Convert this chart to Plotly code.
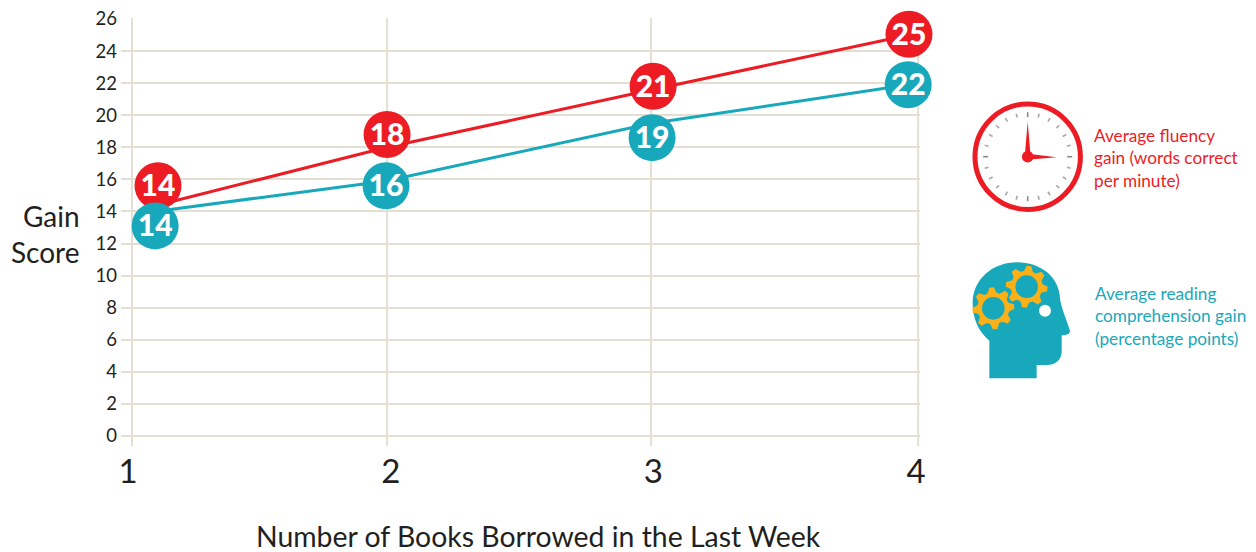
import math
import plotly.graph_objects as go

W, H = 1256, 552
RED = "#ed1c24"
TEAL = "#17a9bb"
GRID = "#e4e0d1"
INK = "#231f20"
FONT = "Lato"

x_ticks = [1, 2, 3, 4]
y_ticks = list(range(0, 27, 2))
x_grid = [1.015, 1.986, 2.991, 4.008]

fluency_x = [1.114, 1.986, 2.999, 3.973]
fluency_line = [14.4, 18.0, 21.6, 25.0]
fluency_marker = [15.6, 18.8, 21.8, 25.05]
fluency_labels = ["14", "18", "21", "25"]

reading_x = [1.103, 1.982, 2.995, 3.970]
reading_line = [14.0, 15.9, 19.5, 21.9]
reading_marker = [13.1, 15.6, 18.6, 21.9]
reading_labels = ["14", "16", "19", "22"]

L, R, T, B = 121, 336, 18, 106
LABEL_DROP = 0.19


def px(x):
    return (x - L) / (W - L - R)


def py(y):
    return 1 - (y - T) / (H - T - B)


def path(points, close=True):
    s = "M " + " L ".join(f"{px(a):.5f},{py(b):.5f}" for a, b in points)
    return s + (" Z" if close else "")


def circle(cx, cy, r, **kw):
    return dict(type="circle", xref="paper", yref="paper", x0=px(cx - r), x1=px(cx + r),
                y0=py(cy + r), y1=py(cy - r), **kw)


def zoomed(a, b):
    return 960 + a / 3, 90 + b / 3


shapes = []
for g in x_grid:
    shapes.append(dict(type="line", xref="x", yref="paper", x0=g, x1=g, y0=0, y1=1,
                       line=dict(color=GRID, width=2), layer="below"))

# clock icon
cx, cy = 1027.7, 156.7
shapes.append(circle(cx, cy, 52.7, line=dict(color=RED, width=5), fillcolor="white"))
for i in range(24):
    a = math.radians(i * 15)
    major = i % 6 == 0
    r0, r1 = (39.5, 44.5) if major else (40.5, 44.5)
    shapes.append(dict(type="line", xref="paper", yref="paper",
                       x0=px(cx + r0 * math.sin(a)), y0=py(cy - r0 * math.cos(a)),
                       x1=px(cx + r1 * math.sin(a)), y1=py(cy - r1 * math.cos(a)),
                       line=dict(color="#8a8a8a" if major else "#a8a8a8", width=1.6)))
shapes.append(dict(type="path", xref="paper", yref="paper", fillcolor=RED, line=dict(width=0),
                   path=path([(cx, cy - 35), (cx + 3, cy), (cx - 3, cy)])))
shapes.append(dict(type="path", xref="paper", yref="paper", fillcolor=RED, line=dict(width=0),
                   path=path([(cx + 29, cy + 0.6), (cx, cy + 3), (cx, cy - 3)])))
shapes.append(circle(cx, cy, 5.8, fillcolor=RED, line=dict(width=0)))


# head icon
def P(a, b):
    x, y = zoomed(a, b)
    return f"{px(x):.5f},{py(y):.5f}"


head = (
    f"M {P(88, 865)} L {P(88, 752)} "
    f"C {P(55, 725)} {P(38, 685)} {P(38, 640)} "
    f"C {P(38, 570)} {P(95, 517)} {P(172, 517)} "
    f"C {P(240, 517)} {P(298, 560)} {P(300, 625)} "
    f"C {P(302, 650)} {P(320, 690)} {P(330, 722)} "
    f"C {P(331, 732)} {P(320, 736)} {P(305, 736)} "
    f"L {P(305, 785)} "
    f"C {P(305, 810)} {P(285, 825)} {P(260, 825)} "
    f"L {P(230, 825)} L {P(230, 865)} Z"
)
shapes.append(dict(type="path", xref="paper", yref="paper", fillcolor=TEAL, line=dict(width=0), path=head))


def gear(za, zb, rot):
    gx, gy = zoomed(za, zb)
    pts = []
    teeth = 8
    for i in range(teeth):
        base = rot + i * 2 * math.pi / teeth
        step = 2 * math.pi / teeth
        for off, rad in [(-0.5, 16.0), (-0.28, 21.0), (0.0, 21.0), (0.22, 16.0)]:
            t = base + off * step + 0.03 * step
            pts.append((gx + rad * math.sin(t), gy - rad * math.cos(t)))
    shapes.append(dict(type="path", xref="paper", yref="paper", fillcolor="#fbb017",
                       line=dict(width=0), path=path(pts)))
    shapes.append(circle(gx, gy, 11.3, fillcolor=TEAL, line=dict(width=0)))


gear(100, 655, 0.0)
gear(200, 590, 0.2)
wx, wy = zoomed(255, 662)
shapes.append(circle(wx, wy, 6, fillcolor="white", line=dict(width=0)))

fig = go.Figure()
fig.add_trace(go.Scatter(x=fluency_x, y=fluency_line, mode="lines", line=dict(color=RED, width=3), hoverinfo="skip"))
fig.add_trace(go.Scatter(x=reading_x, y=reading_line, mode="lines", line=dict(color=TEAL, width=3), hoverinfo="skip"))
label_font = dict(family=FONT, size=30, color="white", weight=900)
fig.add_trace(go.Scatter(x=fluency_x, y=fluency_marker, mode="markers",
                         marker=dict(size=47, color=RED), cliponaxis=False))
fig.add_trace(go.Scatter(x=fluency_x, y=[v - LABEL_DROP for v in fluency_marker], mode="text", text=fluency_labels,
                         textposition="middle center", textfont=label_font, cliponaxis=False))
fig.add_trace(go.Scatter(x=reading_x, y=reading_marker, mode="markers",
                         marker=dict(size=47, color=TEAL), cliponaxis=False))
fig.add_trace(go.Scatter(x=reading_x, y=[v - LABEL_DROP for v in reading_marker], mode="text", text=reading_labels,
                         textposition="middle center", textfont=label_font, cliponaxis=False))


def note(text, x, y, size, color, anchor="left"):
    return dict(text=text, xref="paper", yref="paper", x=px(x), y=py(y), xanchor=anchor, yanchor="middle",
                showarrow=False, align=anchor, font=dict(family=FONT, size=size, color=color))


annotations = [
    note("Gain", 82, 216, 28, INK, "right"),
    note("Score", 82, 252, 28, INK, "right"),
    note("Number of Books Borrowed in the Last Week", 538.5, 536, 28.4, INK, "center"),
    note("Average fluency", 1092, 135, 17.2, RED),
    note("gain (words correct", 1092, 157, 17.2, RED),
    note("per minute)", 1092, 180, 17.2, RED),
    note("Average reading", 1093, 293, 17.2, TEAL),
    note("comprehension gain", 1093, 315, 17.2, TEAL),
    note("(percentage points)", 1093, 338, 17.2, TEAL),
]

fig.update_layout(
    width=W, height=H, autosize=False, showlegend=False,
    margin=dict(l=L, r=R, t=T, b=B, pad=0),
    paper_bgcolor="white", plot_bgcolor="white",
    shapes=shapes, annotations=annotations,
    xaxis=dict(range=[0.973, 4.015], tickmode="array", tickvals=x_ticks, ticktext=[str(v) for v in x_ticks],
               showgrid=False, zeroline=False, showline=False, ticks="", automargin=False,
               ticklabelstandoff=3, tickfont=dict(family=FONT, size=33, color=INK)),
    yaxis=dict(range=[-0.623, 26.06], tickmode="array", tickvals=y_ticks, ticktext=[str(v) for v in y_ticks],
               showgrid=True, gridcolor=GRID, gridwidth=2, zeroline=False, showline=False, ticks="", automargin=False,
               ticklabelstandoff=3, tickfont=dict(family=FONT, size=18.5, color=INK)),
)

fig.write_html("out.html", post_script="document.body.style.margin='0';document.body.style.overflow='hidden';",
               config=dict(displayModeBar=False))
